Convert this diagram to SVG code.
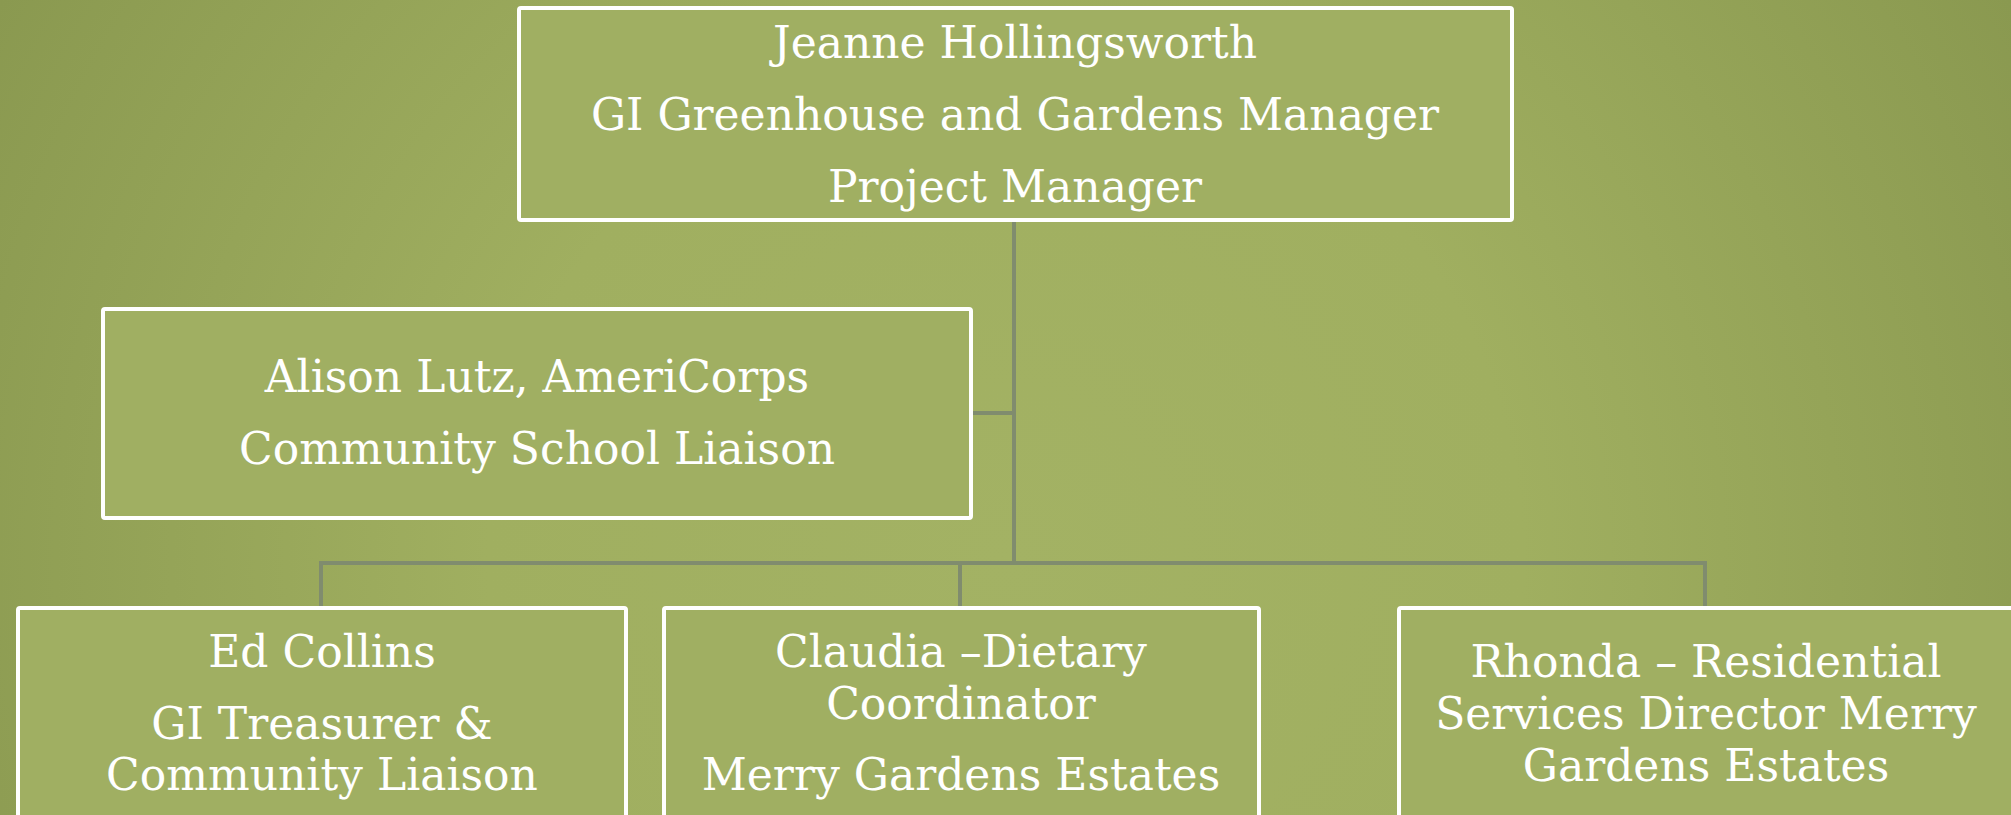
<svg xmlns="http://www.w3.org/2000/svg" width="2011" height="815" viewBox="0 0 2011 815">
  <defs>
    <radialGradient id="bg" gradientUnits="userSpaceOnUse" cx="1005" cy="560" r="1150">
      <stop offset="0" stop-color="#a3b264"/>
      <stop offset="0.45" stop-color="#a0af60"/>
      <stop offset="1" stop-color="#8a9950"/>
    </radialGradient>
    <style>
      .box { fill: #a0af62; stroke: #ffffff; stroke-width: 4; }
      .conn { fill: none; stroke: #808c6e; stroke-width: 4; }
      .t { font-family: "DejaVu Serif", "Liberation Serif", serif; font-size: 44px; fill: #ffffff; text-anchor: middle; }
    </style>
  </defs>
  <rect x="0" y="0" width="2011" height="815" fill="url(#bg)"/>
  <g id="connectors">
    <path class="conn" d="M1014,222 V563"/>
    <path class="conn" d="M972,413 H1014"/>
    <path class="conn" d="M321,608 V563 H1705 V608"/>
    <path class="conn" d="M960,563 V608"/>
  </g>
  <g id="node-jeanne">
    <rect class="box" x="519" y="8" width="993" height="212" rx="2"/>
    <text class="t" x="1015" y="58">Jeanne Hollingsworth</text>
    <text class="t" x="1015" y="130">GI Greenhouse and Gardens Manager</text>
    <text class="t" x="1015" y="202">Project Manager</text>
  </g>
  <g id="node-alison">
    <rect class="box" x="103" y="309" width="868" height="209" rx="2"/>
    <text class="t" x="537" y="392">Alison Lutz, AmeriCorps</text>
    <text class="t" x="537" y="464">Community School Liaison</text>
  </g>
  <g id="node-ed">
    <rect class="box" x="18" y="608" width="608" height="230" rx="2"/>
    <text class="t" x="322" y="667">Ed Collins</text>
    <text class="t" x="322" y="739">GI Treasurer &amp;</text>
    <text class="t" x="322" y="790">Community Liaison</text>
  </g>
  <g id="node-claudia">
    <rect class="box" x="664" y="608" width="595" height="230" rx="2"/>
    <text class="t" x="961" y="667">Claudia –Dietary</text>
    <text class="t" x="961" y="719">Coordinator</text>
    <text class="t" x="961" y="790">Merry Gardens Estates</text>
  </g>
  <g id="node-rhonda">
    <rect class="box" x="1399" y="608" width="616" height="230" rx="2"/>
    <text class="t" x="1706" y="677">Rhonda – Residential</text>
    <text class="t" x="1706" y="729">Services Director Merry</text>
    <text class="t" x="1706" y="781">Gardens Estates</text>
  </g>
</svg>
